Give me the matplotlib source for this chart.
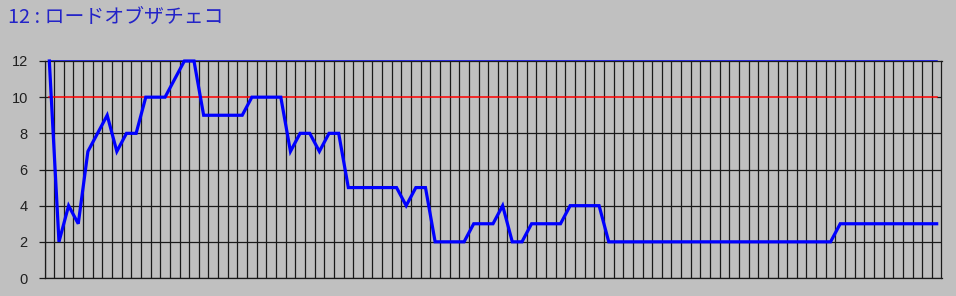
import matplotlib
matplotlib.use("Agg")
import matplotlib.pyplot as plt
import numpy as np

title = "12 : ロードオブザチェコ"
values = [12, 2, 4, 3, 7, 8, 9, 7, 8, 8,
          10, 10, 10, 11, 12, 12, 9, 9, 9, 9,
          9, 10, 10, 10, 10, 7, 8, 8, 7, 8,
          8, 5, 5, 5, 5, 5, 5, 4, 5, 5,
          2, 2, 2, 2, 3, 3, 3, 4, 2, 2,
          3, 3, 3, 3, 4, 4, 4, 4, 2, 2,
          2, 2, 2, 2, 2, 2, 2, 2, 2, 2,
          2, 2, 2, 2, 2, 2, 2, 2, 2, 2,
          2, 2, 3, 3, 3, 3, 3, 3, 3, 3,
          3, 3, 3]
limit_line = 10
top_line = 12
y_ticks = [0, 2, 4, 6, 8, 10, 12]

bg = "#C0C0C0"
n = len(values)
x = np.arange(n) + 0.5

fig = plt.figure(figsize=(9.56, 2.96), dpi=100, facecolor=bg)
ax = fig.add_axes([44.5 / 956, 18 / 296, 897 / 956, 217 / 296], facecolor=bg)

# grid: one vertical line per cell boundary, horizontal every 2
for k in range(n + 1):
    ax.axvline(k, color="#1a1a1a", lw=0.9, zorder=1)
for v in y_ticks:
    if v in (limit_line, top_line):
        continue
    ax.axhline(v, color="#1a1a1a", lw=0.9, zorder=1)

# reference lines span the data cells, black shows only at the ends
ax.axhline(limit_line, color="#1a1a1a", lw=0.9, zorder=1, xmin=(n - 0.5) / n)
ax.axhline(limit_line, color="#1a1a1a", lw=0.9, zorder=1, xmax=0.5 / n)
ax.plot([x[0], x[-1]], [limit_line, limit_line], color="#FF0000", lw=1.1, zorder=2)
ax.plot([x[0], x[-1]], [top_line, top_line], color="#0000FF", lw=1.1, zorder=2,
        clip_on=False)
ax.plot(x, values, color="#0000FF", lw=2.3, zorder=3, clip_on=False,
        solid_joinstyle="miter")

ax.set_xlim(0, n)
ax.set_ylim(0, 12)
ax.set_xticks([])
ax.set_yticks(y_ticks)
ax.set_yticklabels([str(v) for v in y_ticks], fontsize=10.5,
                   family=["Liberation Sans", "DejaVu Sans"], color="#202020")
ax.tick_params(axis="y", length=4, width=0.9, color="#1a1a1a", pad=8)
for s in ax.spines.values():
    s.set_color("#1a1a1a")
    s.set_linewidth(0.9)

fig.text(8 / 956, 1 - 17 / 296, title, color="#2323C8", fontsize=14.3,
         family=["Noto Sans CJK JP", "DejaVu Sans"], va="center", ha="left")

fig.savefig("out.png", dpi=100, facecolor=bg)
